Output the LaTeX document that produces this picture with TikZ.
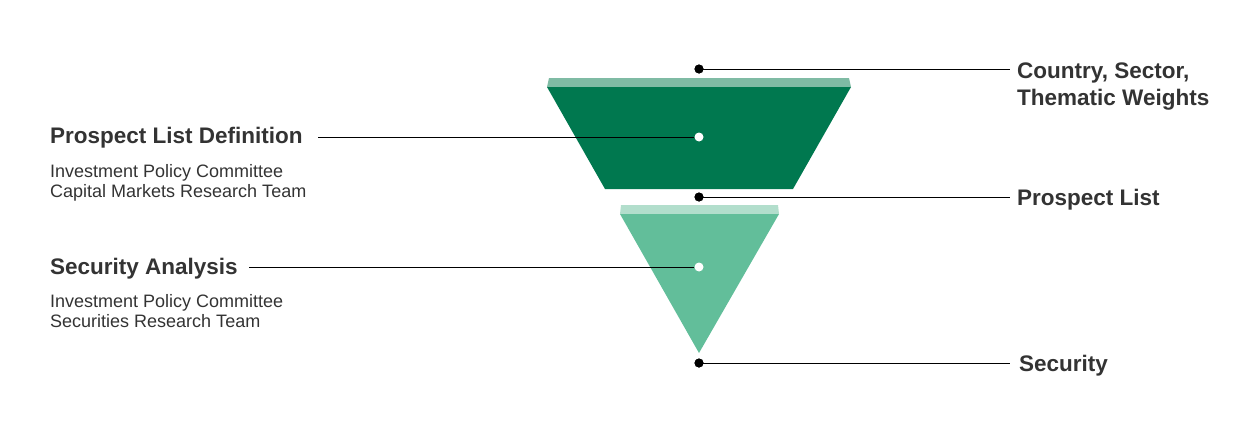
\documentclass[tikz,border=0pt]{standalone}
\usepackage{fontspec}
\setmainfont{Liberation Sans}
\usetikzlibrary{positioning}
\definecolor{darkgreen}{HTML}{00784F}
\definecolor{darkstrip}{HTML}{7FBBA4}
\definecolor{lightgreen}{HTML}{62BE9A}
\definecolor{lightstrip}{HTML}{B2DECC}
\definecolor{inktext}{HTML}{333333}
\tikzset{%
  blackdot/.style = {circle,fill=black,inner sep=0pt,minimum size=9pt},
  whitedot/.style = {circle,fill=white,inner sep=0pt,minimum size=9pt},
  lead/.style = {draw=black,line width=0.9pt},
  title/.style = {anchor=west,inner sep=0pt,text=inktext,
        font=\fontsize{22.5}{27}\selectfont\bfseries,align=left},
  sub/.style = {anchor=north west,inner sep=0pt,text=inktext,
        font=\fontsize{18}{20.5}\selectfont,align=left}
}
\begin{document}
\begin{tikzpicture}[x=1pt,y=-1pt]
        \useasboundingbox (0,0) rectangle (1237,439);
        % funnel
        \fill[darkstrip] (549,78) -- (849,78) -- (851,87) -- (547,87) -- cycle;
        \fill[darkgreen] (547,87) -- (851,87) -- (793,189) -- (605,189) -- cycle;
        \fill[lightstrip] (621,205) -- (778,205) -- (779,214) -- (620,214) -- cycle;
        \fill[lightgreen] (620,214) -- (779,214) -- (699,353) -- cycle;
        % dots
        \node[blackdot] (weights) at (699,69) {};
        \node[whitedot] (definition) at (699,137) {};
        \node[blackdot] (prospect) at (699,197) {};
        \node[whitedot] (analysis) at (699,267) {};
        \node[blackdot] (security) at (699,363) {};
        % right labels
        \node[title] (wlabel) at (1017,87) {Country, Sector,\\Thematic Weights};
        \node[title] (plabel) at (1017,200) {Prospect List};
        \node[title] (slabel) at (1019,366) {Security};
        % left labels
        \node[title] (dlabel) at (50,138) {Prospect List Definition};
        \node[sub] (dteam) at (50,164) {Investment Policy Committee\\Capital Markets Research Team};
        \node[title] (alabel) at (50,269) {Security Analysis};
        \node[sub] (ateam) at (50,294) {Investment Policy Committee\\Securities Research Team};
        % leads
        \draw[lead] (weights.center) -- ([xshift=-7pt]weights -| wlabel.west);
        \draw[lead] (prospect.center) -- ([xshift=-7pt]prospect -| plabel.west);
        \draw[lead] (security.center) -- ([xshift=-9pt]security -| slabel.west);
        \draw[lead] (definition) -- ([xshift=15pt]definition -| dlabel.east);
        \draw[lead] (analysis) -- ([xshift=11pt]analysis -| alabel.east);
        \node[blackdot] at (weights) {};
        \node[blackdot] at (prospect) {};
        \node[blackdot] at (security) {};
\end{tikzpicture}
\end{document}
